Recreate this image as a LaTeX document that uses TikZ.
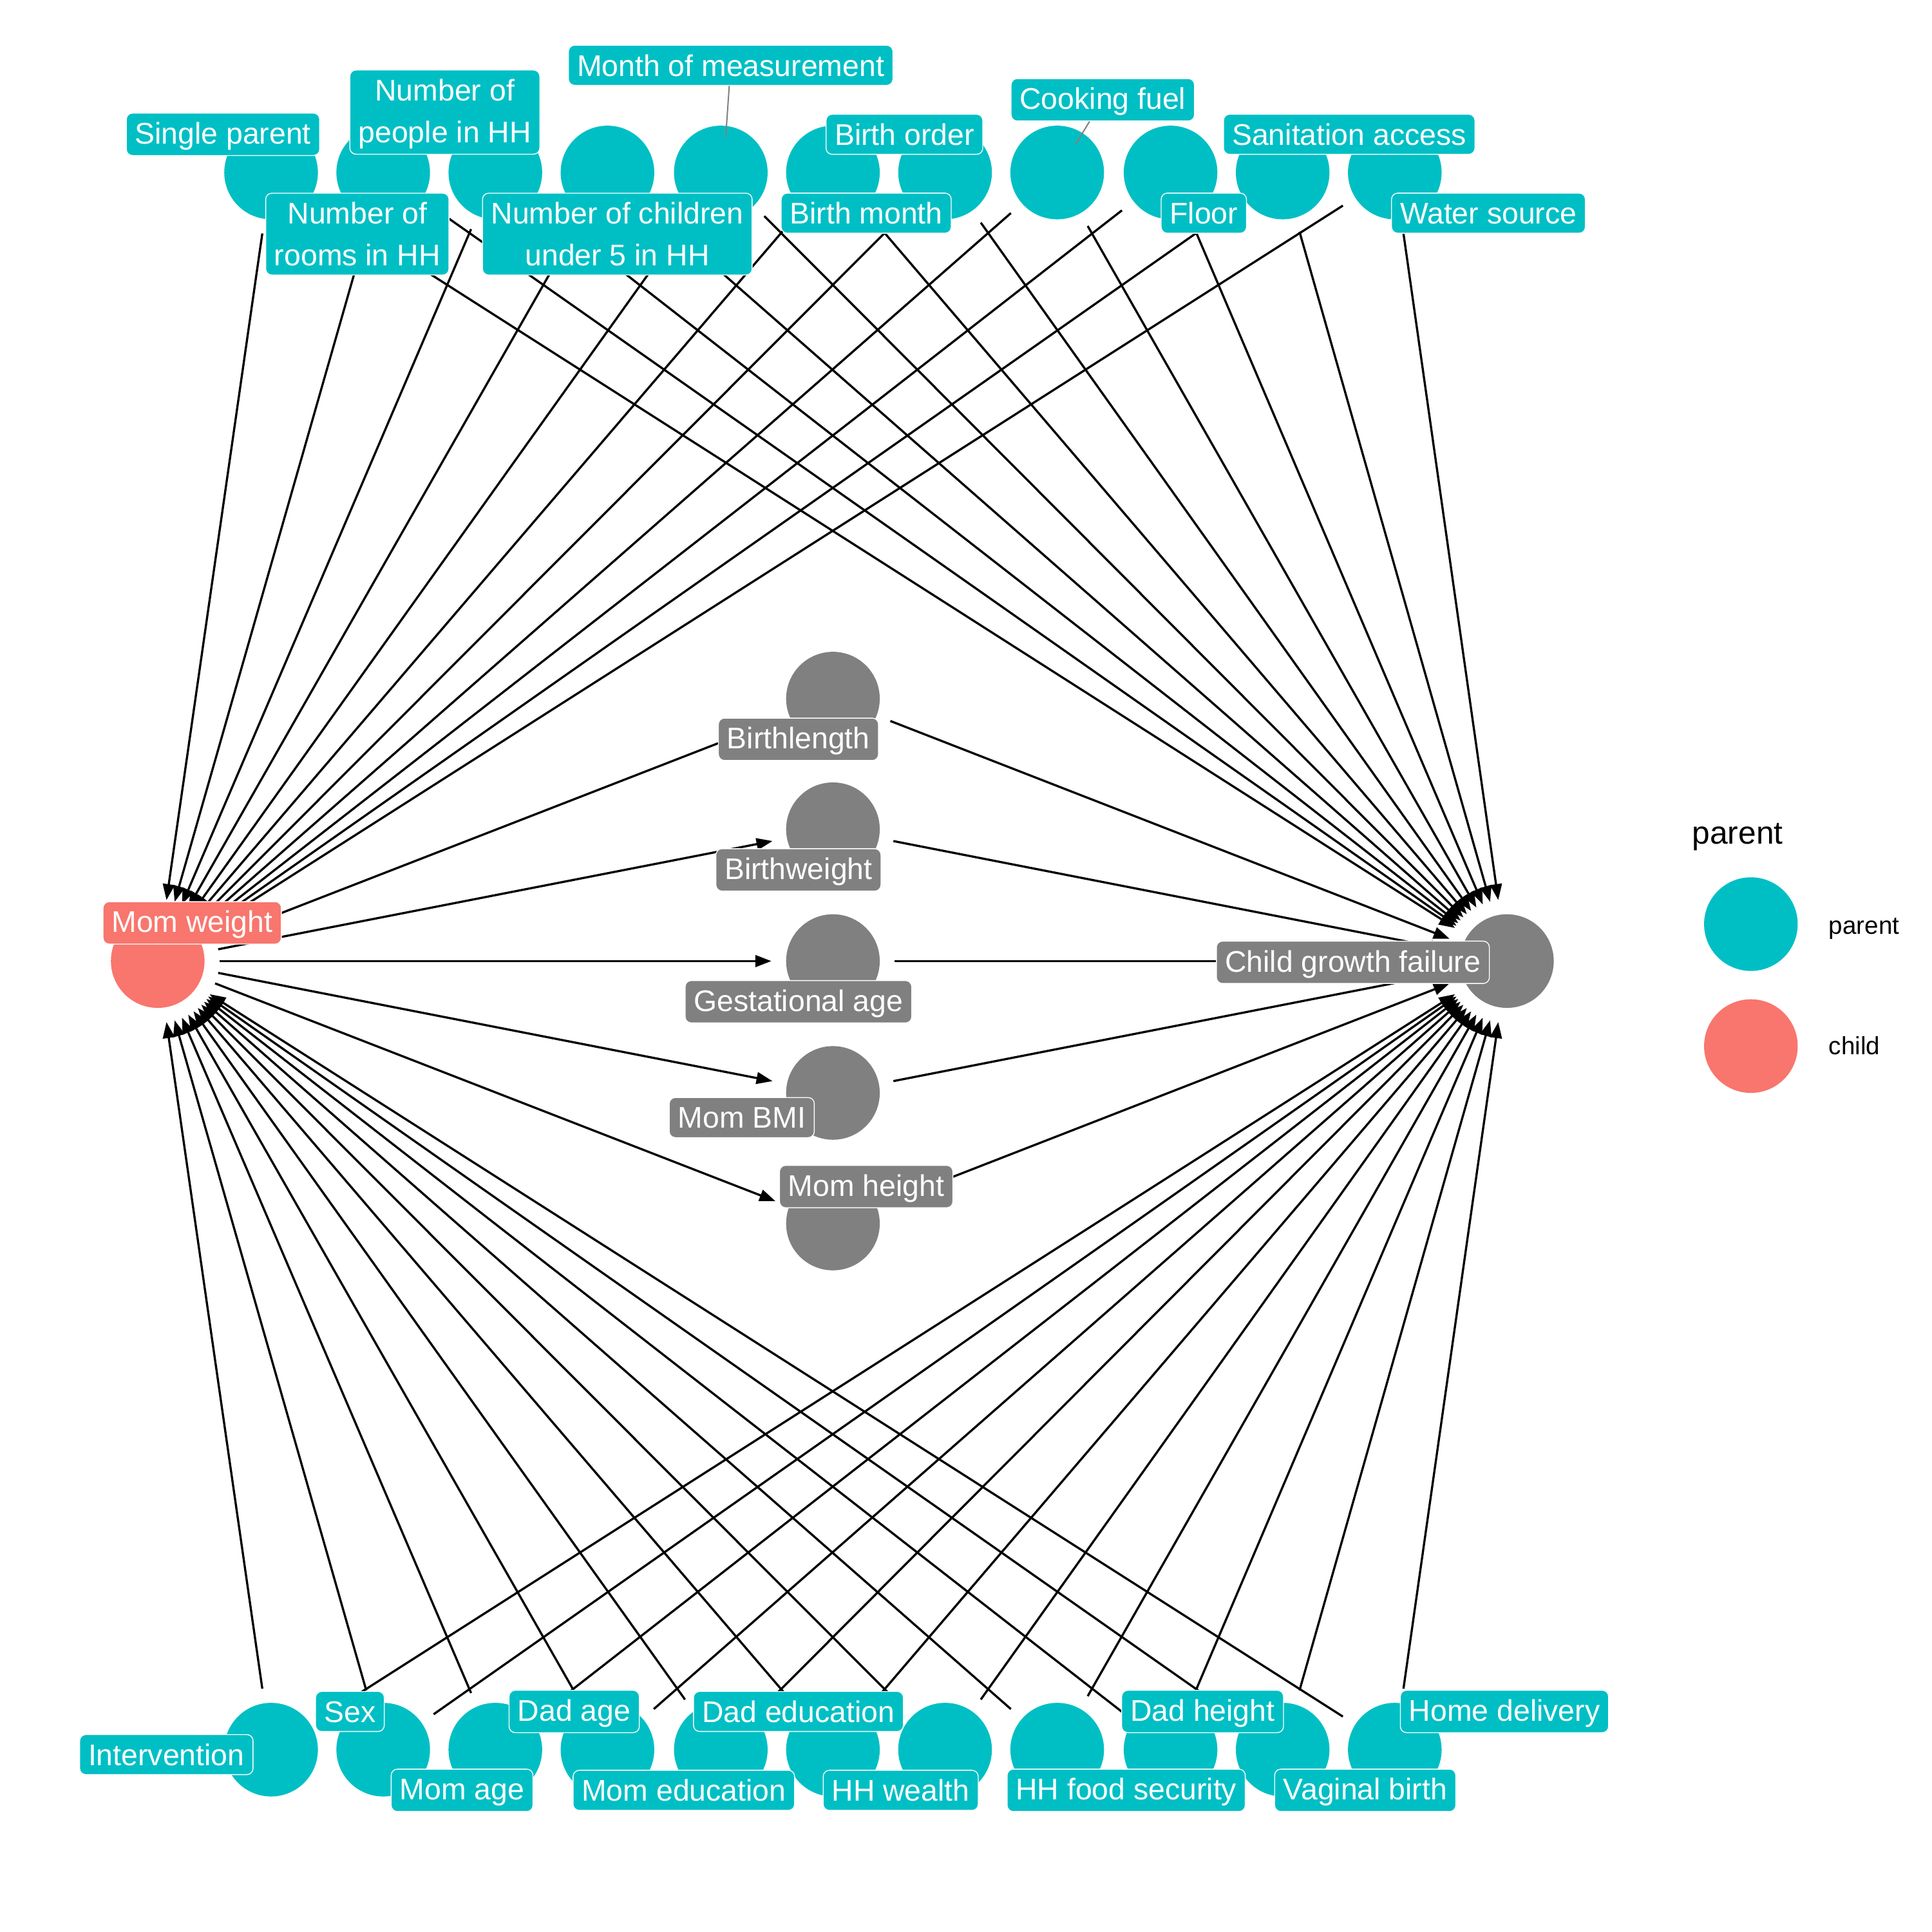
\documentclass[tikz,border=0pt]{standalone}
\usepackage{fontspec}
\setmainfont{Liberation Sans}
\usetikzlibrary{arrows.meta}
\definecolor{parentcol}{HTML}{00BFC4}
\definecolor{childcol}{HTML}{F8766D}
\definecolor{medcol}{HTML}{808080}
% strut giving every label line the same height and depth
\newcommand{\lstrut}{\rule[-1.8pt]{0pt}{13.5pt}}
\begin{document}
\begin{tikzpicture}[x=0.02cm,y=-0.02cm,
  dot/.style={circle,draw=none,minimum size=1.52cm,inner sep=0pt,outer sep=0.24cm},
  pdot/.style={dot,fill=parentcol},
  cdot/.style={dot,fill=childcol},
  mdot/.style={dot,fill=medcol},
  edge/.style={draw=black,line width=1pt,-{Triangle[length=0.26cm,width=0.19cm]}},
  leader/.style={draw=medcol,line width=0.6pt},
  tag/.style={rounded corners=0.1cm,draw=white,line width=0.4pt,text=white,
    font=\fontsize{13.8}{19.3}\selectfont,inner xsep=0.14cm,inner ysep=2.5pt,align=center},
  ptag/.style={tag,fill=parentcol},
  ctag/.style={tag,fill=childcol},
  mtag/.style={tag,fill=medcol},
  legtext/.style={anchor=base west,inner sep=0pt,text=black},
]
\useasboundingbox (0,0) rectangle (1568,1568);

% ---- points ----
% top row of parents
\node[pdot] (tSingle)   at (220,140) {};
\node[pdot] (tRooms)    at (311,140) {};
\node[pdot] (tPeople)   at (402,140) {};
\node[pdot] (tChildren) at (493,140) {};
\node[pdot] (tMonth)    at (585,140) {};
\node[pdot] (tBmonth)   at (676,140) {};
\node[pdot] (tBorder)   at (767,140) {};
\node[pdot] (tFuel)     at (858,140) {};
\node[pdot] (tFloor)    at (950,140) {};
\node[pdot] (tSanit)    at (1041,140) {};
\node[pdot] (tWater)    at (1132,140) {};
% bottom row of parents
\node[pdot] (bInterv)   at (220,1420) {};
\node[pdot] (bSex)      at (311,1420) {};
\node[pdot] (bMomAge)   at (402,1420) {};
\node[pdot] (bDadAge)   at (493,1420) {};
\node[pdot] (bMomEdu)   at (585,1420) {};
\node[pdot] (bDadEdu)   at (676,1420) {};
\node[pdot] (bWealth)   at (767,1420) {};
\node[pdot] (bFood)     at (858,1420) {};
\node[pdot] (bDadHt)    at (950,1420) {};
\node[pdot] (bVaginal)  at (1041,1420) {};
\node[pdot] (bHome)     at (1132,1420) {};
% exposure, mediators, outcome
\node[cdot] (mw)   at (128,780) {};
\node[mdot] (bl)   at (676,567) {};
\node[mdot] (bw)   at (676,673) {};
\node[mdot] (ga)   at (676,780) {};
\node[mdot] (bmi)  at (676,887) {};
\node[mdot] (mh)   at (676,993) {};
\node[mdot] (cgf)  at (1223,780) {};

% ---- edges ----
\foreach \n in {tSingle,tRooms,tPeople,tChildren,tMonth,tBmonth,tBorder,tFuel,tFloor,tSanit,tWater,
                bInterv,bSex,bMomAge,bDadAge,bMomEdu,bDadEdu,bWealth,bFood,bDadHt,bVaginal,bHome}{
  \draw[edge] (\n) -- (mw);
  \draw[edge] (\n) -- (cgf);
}
\foreach \m in {bl,bw,ga,bmi,mh}{
  \draw[edge] (mw) -- (\m);
  \draw[edge] (\m) -- (cgf);
}

% ---- labels ----
\node[ptag] (lSingle)   at (181,109)  {\lstrut Single parent};
\node[ptag] (lPeople)   at (361,91)   {\lstrut Number of\\\lstrut people in HH};
\node[ptag] (lMonth)    at (593,53)   {\lstrut Month of measurement};
\node[ptag] (lBorder)   at (734,109)  {\lstrut Birth order};
\node[ptag] (lFuel)     at (895,81)   {\lstrut Cooking fuel};
\node[ptag] (lSanit)    at (1095,109) {\lstrut Sanitation access};
\node[ptag] (lRooms)    at (290,190)  {\lstrut Number of\\\lstrut rooms in HH};
\node[ptag] (lChildren) at (501,190)  {\lstrut Number of children\\\lstrut under 5 in HH};
\node[ptag] (lBmonth)   at (703,173)  {\lstrut Birth month};
\node[ptag] (lFloor)    at (977,173)  {\lstrut Floor};
\node[ptag] (lWater)    at (1208,173) {\lstrut Water source};

\node[ptag] (lInterv)   at (135,1424) {\lstrut Intervention};
\node[ptag] (lSex)      at (284,1389) {\lstrut Sex};
\node[ptag] (lMomAge)   at (375,1453) {\lstrut Mom age};
\node[ptag] (lDadAge)   at (466,1389) {\lstrut Dad age};
\node[ptag] (lMomEdu)   at (555,1453) {\lstrut Mom education};
\node[ptag] (lDadEdu)   at (648,1389) {\lstrut Dad education};
\node[ptag] (lWealth)   at (731,1453) {\lstrut HH wealth};
\node[ptag] (lFood)     at (914,1453) {\lstrut HH food security};
\node[ptag] (lDadHt)    at (976,1389) {\lstrut Dad height};
\node[ptag] (lVaginal)  at (1108,1453) {\lstrut Vaginal birth};
\node[ptag] (lHome)     at (1221,1389) {\lstrut Home delivery};

\node[mtag] (lBl)  at (648,600) {\lstrut Birthlength};
\node[mtag] (lBw)  at (648,706) {\lstrut Birthweight};
\node[mtag] (lGa)  at (648,813) {\lstrut Gestational age};
\node[mtag] (lBmi) at (602,907) {\lstrut Mom BMI};
\node[mtag] (lMh)  at (703,963) {\lstrut Mom height};
\node[ctag] (lMw)  at (156,749) {\lstrut Mom weight};
\node[mtag] (lCgf) at (1098,781) {\lstrut Child growth failure};

% leader lines from displaced labels to their points
\coordinate (monthEnd) at (589,111);
\coordinate (fuelEnd)  at (873,117);
\draw[leader] (lMonth) -- (monthEnd);
\draw[leader] (lFuel) -- (fuelEnd);

% ---- legend ----
\node[legtext,font=\fontsize{14.8}{18}\selectfont] (legTitle) at (1373,685) {parent};
\node[pdot] (legP) at (1421,750) {};
\node[cdot] (legC) at (1421,849) {};
\node[legtext,font=\fontsize{11.5}{14}\selectfont] (legPt) at (1484,758) {parent};
\node[legtext,font=\fontsize{11.5}{14}\selectfont] (legCt) at (1484,856) {child};
\end{tikzpicture}
\end{document}
